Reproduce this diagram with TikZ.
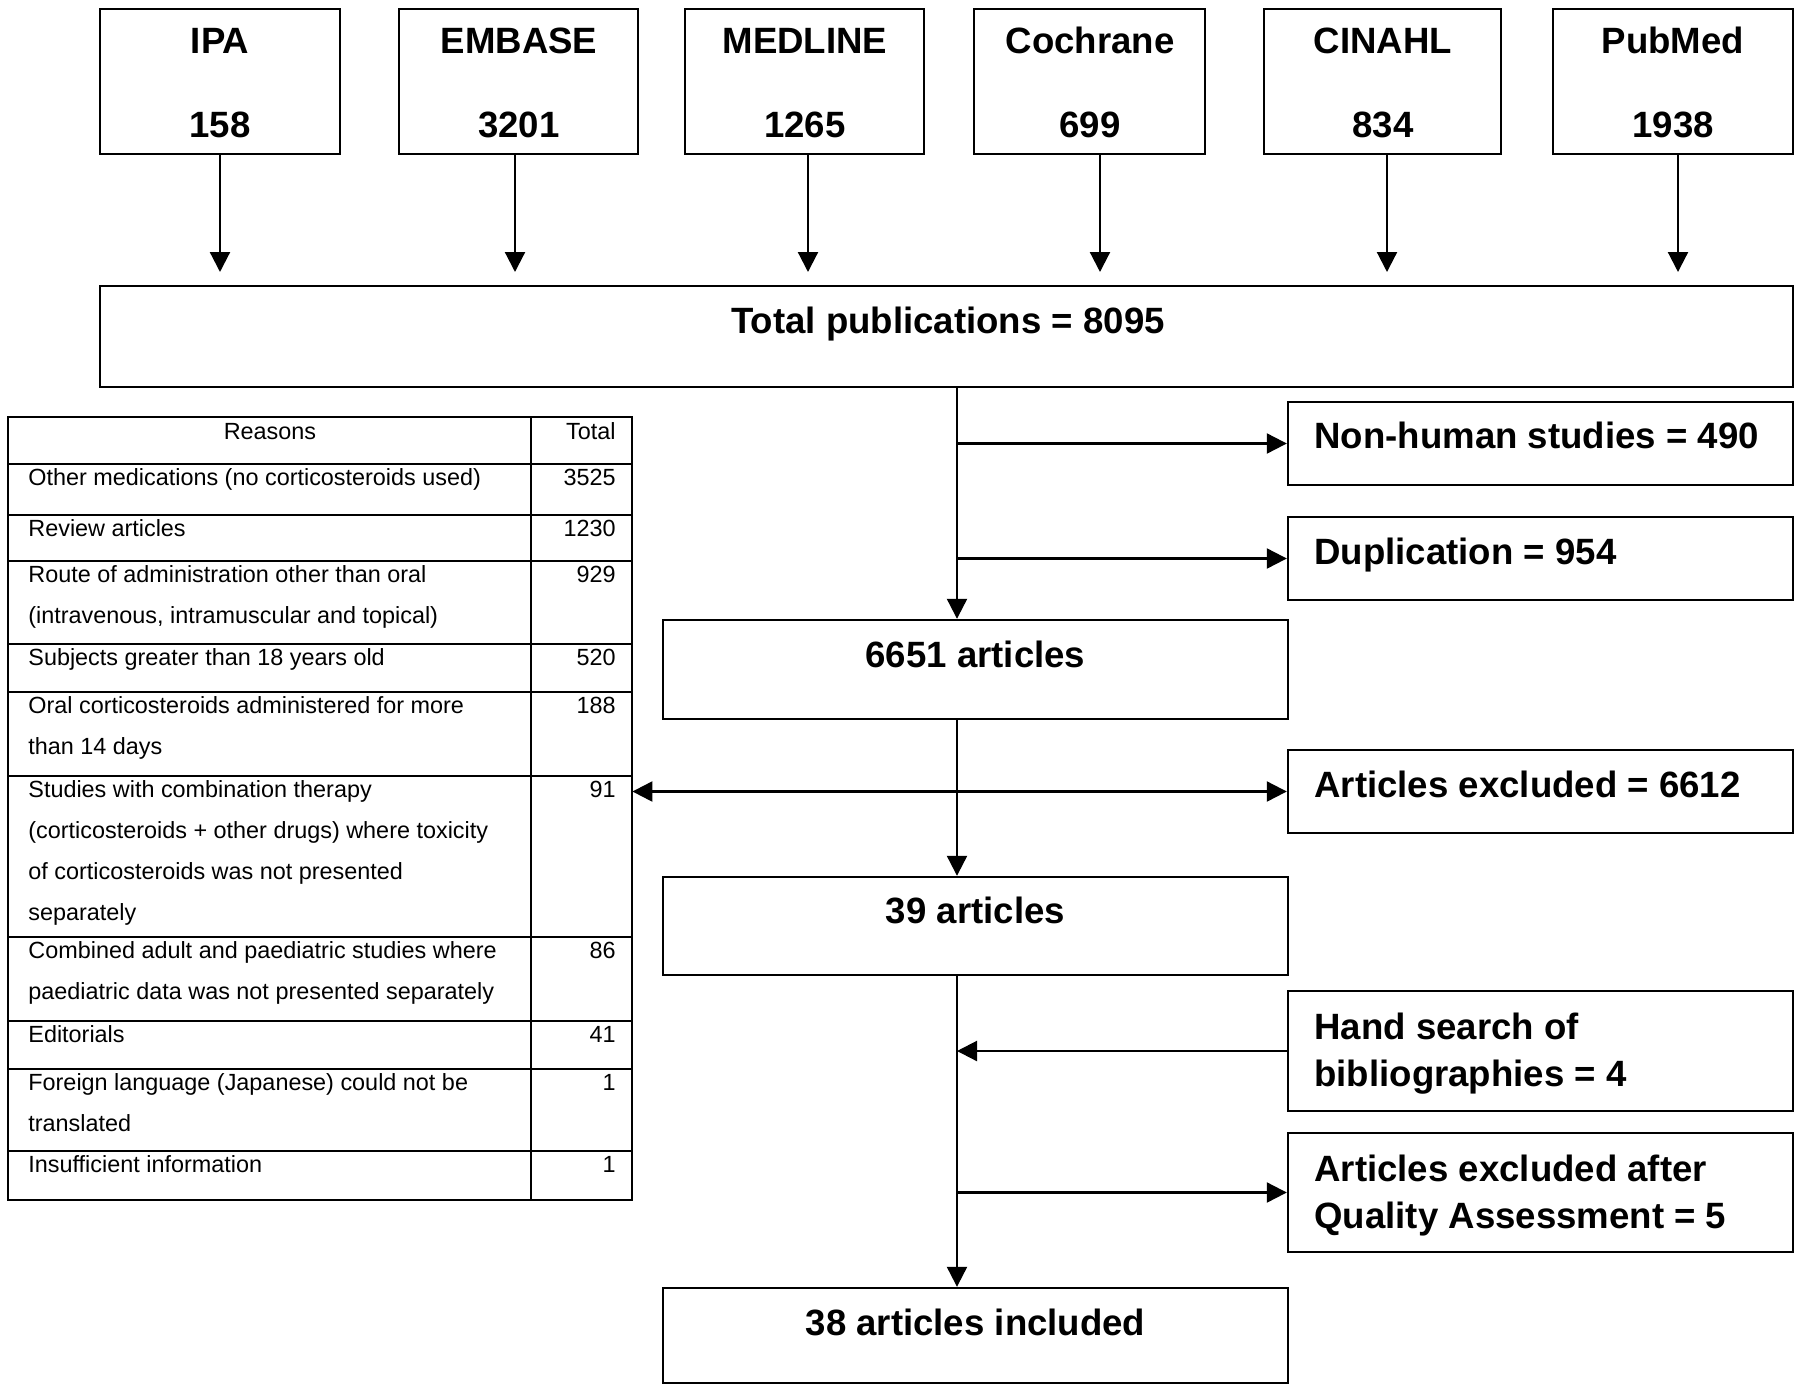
\documentclass[tikz,border=0pt]{standalone}
\usepackage{fontspec}
\setmainfont{Liberation Sans}
\usetikzlibrary{arrows.meta,fit}
\begin{document}
\begin{tikzpicture}[x=0.5pt,y=-0.5pt,
  box/.style={draw, line width=1.2pt, inner sep=0pt},
  big/.style={font=\fontsize{18.3}{23.5}\selectfont\bfseries, inner sep=0pt, anchor=base},
  bigl/.style={big, anchor=base west, align=left},
  tx/.style={font=\fontsize{11.7}{20.5}\selectfont, inner sep=0pt, anchor=base west, align=left},
  num/.style={font=\fontsize{11.7}{20.5}\selectfont, inner sep=0pt, anchor=base east},
  arr/.style={line width=1.1pt, -{Triangle[length=10pt,width=10pt]}},
  darr/.style={line width=1.1pt, {Triangle[length=10pt,width=10pt]}-{Triangle[length=10pt,width=10pt]}},
  tline/.style={line width=1.1pt}
]
\useasboundingbox (0,0) rectangle (1800,1387);
\fill[white] (0,0) rectangle (1800,1387);

% ---------- source boxes ----------
\node[box, fit={(100,9)(340,154)}] (ipa) {};
\node[box, fit={(399,9)(638,154)}] (embase) {};
\node[box, fit={(685,9)(924,154)}] (medline) {};
\node[box, fit={(974,9)(1205,154)}] (cochrane) {};
\node[box, fit={(1264,9)(1501,154)}] (cinahl) {};
\node[box, fit={(1553,9)(1793,154)}] (pubmed) {};

\node[big] (ipaT) at (220,53) {IPA};
\node[big] (ipaN) at (220,137) {158};
\node[big] (embT) at (519,53) {EMBASE};
\node[big] (embN) at (519,137) {3201};
\node[big] (medT) at (805,53) {MEDLINE};
\node[big] (medN) at (805,137) {1265};
\node[big] (cocT) at (1090,53) {Cochrane};
\node[big] (cocN) at (1090,137) {699};
\node[big] (cinT) at (1383,53) {CINAHL};
\node[big] (cinN) at (1383,137) {834};
\node[big] (pubT) at (1673,53) {PubMed};
\node[big] (pubN) at (1673,137) {1938};

\coordinate (tipy) at (0,272);
\draw[arr] (ipa.south) -- (ipa.south |- tipy);
\draw[arr] ([xshift=-1.75pt]embase.south) -- ([xshift=-1.75pt]embase.south |- tipy);
\draw[arr] ([xshift=1.75pt]medline.south) -- ([xshift=1.75pt]medline.south |- tipy);
\draw[arr] ([xshift=5.25pt]cochrane.south) -- ([xshift=5.25pt]cochrane.south |- tipy);
\draw[arr] ([xshift=2.25pt]cinahl.south) -- ([xshift=2.25pt]cinahl.south |- tipy);
\draw[arr] ([xshift=2.5pt]pubmed.south) -- ([xshift=2.5pt]pubmed.south |- tipy);

% ---------- total ----------
\node[box, fit={(100,286)(1793,387)}] (total) {};
\node[big] (totalT) at (948,333) {Total publications = 8095};

% ---------- right-hand boxes ----------
\node[box, fit={(1288,402)(1793,485)}] (nonhuman) {};
\node[bigl] (nonhumanT) at (1314,448) {Non-human studies = 490};
\node[box, fit={(1288,517)(1793,600)}] (dup) {};
\node[bigl] (dupT) at (1314,564) {Duplication = 954};
\node[box, fit={(1288,750)(1793,833)}] (excl) {};
\node[bigl] (exclT) at (1314,797) {Articles excluded = 6612};
\node[box, fit={(1288,991)(1793,1111)}] (hand) {};
\node[bigl] (handT) at (1314,1086) {Hand search of\\bibliographies = 4};
\node[box, fit={(1288,1133)(1793,1252)}] (qa) {};
\node[bigl] (qaT) at (1314,1228) {Articles excluded after\\Quality Assessment = 5};

% ---------- centre boxes ----------
\node[box, fit={(663,620)(1288,719)}] (a6651) {};
\node[big] (a6651T) at (975.5,667) {6651 articles};
\node[box, fit={(663,877)(1288,975)}] (a39) {};
\node[big] (a39T) at (975.5,923) {39 articles};
\node[box, fit={(663,1288)(1288,1383)}] (a38) {};
\node[big] (a38T) at (975.5,1335) {38 articles included};

% ---------- table ----------
\node[inner sep=0pt, fit={(8,417)(632,1200)}] (tbl) {};
\draw[tline] (8,417) rectangle (632,1200);
\draw[tline] (531,417) -- (531,1200);
\foreach \yy in {464,515,561,644,692,776,937,1021,1069,1151}
  \draw[tline] (8,\yy) -- (632,\yy);

\node[font=\fontsize{11.7}{20.5}\selectfont, inner sep=0pt, anchor=base] (hR) at (270,439) {Reasons};
\node[num] (hT) at (616,439) {Total};

\node[tx] (r1) at (28,485.5) {Other medications (no corticosteroids used)};
\node[num] (n1) at (616,485.5) {3525};
\node[tx] (r2) at (28,536.5) {Review articles};
\node[num] (n2) at (616,536.5) {1230};
\node[tx] (r3) at (28,623.5) {Route of administration other than oral\\(intravenous, intramuscular and topical)};
\node[num] (n3) at (616,582.5) {929};
\node[tx] (r4) at (28,665.5) {Subjects greater than 18 years old};
\node[num] (n4) at (616,665.5) {520};
\node[tx] (r5) at (28,754.5) {Oral corticosteroids administered for more\\than 14 days};
\node[num] (n5) at (616,713.5) {188};
\node[tx] (r6) at (28,920.5) {Studies with combination therapy\\(corticosteroids + other drugs) where toxicity\\of corticosteroids was not presented\\separately};
\node[num] (n6) at (616,797.5) {91};
\node[tx] (r7) at (28,999.5) {Combined adult and paediatric studies where\\paediatric data was not presented separately};
\node[num] (n7) at (616,958.5) {86};
\node[tx] (r8) at (28,1042.5) {Editorials};
\node[num] (n8) at (616,1042.5) {41};
\node[tx] (r9) at (28,1131.5) {Foreign language (Japanese) could not be\\translated};
\node[num] (n9) at (616,1090.5) {1};
\node[tx] (r10) at (28,1172.5) {Insufficient information};
\node[num] (n10) at (616,1172.5) {1};

% ---------- connectors ----------
\coordinate (m0) at (957,387);
\draw[arr] (m0) -- (m0 |- a6651.north);
\draw[arr] (m0 |- nonhuman.west) -- (nonhuman.west);
\draw[arr] (m0 |- dup.west) -- (dup.west);
\draw[arr] (m0 |- a6651.south) -- (m0 |- a39.north);
\draw[darr] (excl.west -| tbl.east) -- (excl.west);
\draw[arr] (m0 |- a39.south) -- (m0 |- a38.north);
\draw[arr] (hand.west) -- (hand.west -| m0);
\draw[arr] (m0 |- qa.west) -- (qa.west);
\end{tikzpicture}
\end{document}
